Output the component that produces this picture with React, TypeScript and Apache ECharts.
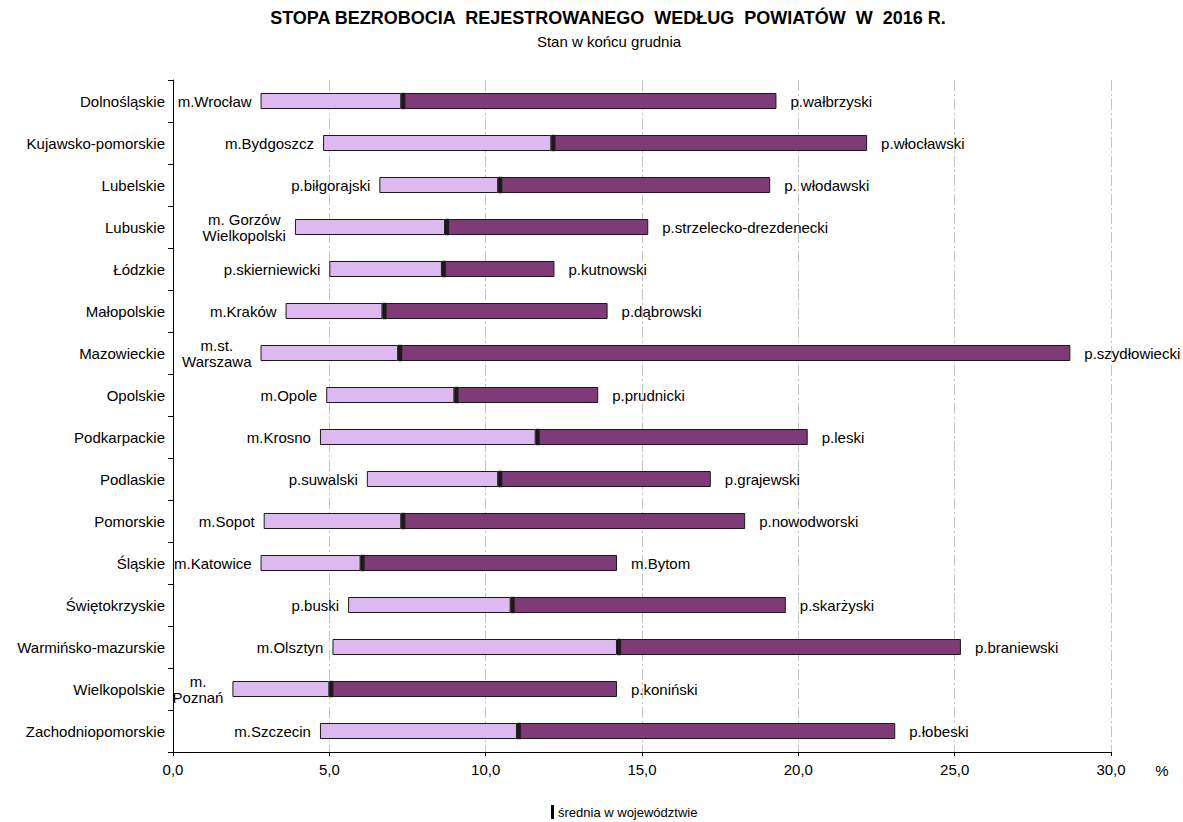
import React, { useEffect, useRef } from "react";
import * as echarts from "echarts";

const regions = [
  "Dolnośląskie",
  "Kujawsko-pomorskie",
  "Lubelskie",
  "Lubuskie",
  "Łódzkie",
  "Małopolskie",
  "Mazowieckie",
  "Opolskie",
  "Podkarpackie",
  "Podlaskie",
  "Pomorskie",
  "Śląskie",
  "Świętokrzyskie",
  "Warmińsko-mazurskie",
  "Wielkopolskie",
  "Zachodniopomorskie",
];

const minValues = [2.8, 4.8, 6.6, 3.9, 5.0, 3.6, 2.8, 4.9, 4.7, 6.2, 2.9, 2.8, 5.6, 5.1, 1.9, 4.7];
const avgValues = [7.3, 12.1, 10.4, 8.7, 8.6, 6.7, 7.2, 9.0, 11.6, 10.4, 7.3, 6.0, 10.8, 14.2, 5.0, 11.0];
const maxValues = [19.3, 22.2, 19.1, 15.2, 12.2, 13.9, 28.7, 13.6, 20.3, 17.2, 18.3, 14.2, 19.6, 25.2, 14.2, 23.1];

const minNames = [
  "m.Wrocław",
  "m.Bydgoszcz",
  "p.biłgorajski",
  "m. Gorzów\nWielkopolski",
  "p.skierniewicki",
  "m.Kraków",
  "m.st.\nWarszawa",
  "m.Opole",
  "m.Krosno",
  "p.suwalski",
  "m.Sopot",
  "m.Katowice",
  "p.buski",
  "m.Olsztyn",
  "m.\nPoznań",
  "m.Szczecin",
];

const maxNames = [
  "p.wałbrzyski",
  "p.włocławski",
  "p. włodawski",
  "p.strzelecko-drezdenecki",
  "p.kutnowski",
  "p.dąbrowski",
  "p.szydłowiecki",
  "p.prudnicki",
  "p.leski",
  "p.grajewski",
  "p.nowodworski",
  "m.Bytom",
  "p.skarżyski",
  "p.braniewski",
  "p.koniński",
  "p.łobeski",
];

const xMin = 0;
const xMax = 30;
const xStep = 5;

const TITLE = "STOPA BEZROBOCIA  REJESTROWANEGO  WEDŁUG  POWIATÓW  W  2016 R.";
const SUBTITLE = "Stan w końcu grudnia";
const LEGEND_TEXT = "średnia w województwie";
const UNIT = "%";

const FONT = '"Liberation Sans", Arial, Helvetica, sans-serif';

export default function App() {
  const ref = useRef<HTMLDivElement>(null);

  useEffect(() => {
    if (!ref.current) return;
    const chart = echarts.init(ref.current, undefined, { renderer: "svg" });

    const lowPart = avgValues.map((a, i) => +(a - minValues[i]).toFixed(2));
    const highPart = maxValues.map((m, i) => +(m - avgValues[i]).toFixed(2));

    const option: any = {
      animation: false,
      backgroundColor: "#ffffff",
      textStyle: { fontFamily: FONT },
      grid: { left: 173, right: 72, top: 80, bottom: 70, containLabel: false },
      xAxis: {
        type: "value",
        min: xMin,
        max: xMax,
        interval: xStep,
        axisLine: { show: true, lineStyle: { color: "#000", width: 1 } },
        axisTick: { show: true, length: 4, lineStyle: { color: "#000" } },
        axisLabel: {
          formatter: (v: number) => v.toFixed(1).replace(".", ","),
          fontSize: 15,
          color: "#000",
          fontFamily: FONT,
          margin: 10,
        },
        splitLine: {
          show: true,
          lineStyle: { color: "#c4c4c4", width: 1, type: [11, 3, 2, 3] },
        },
      },
      yAxis: {
        type: "category",
        data: regions,
        inverse: true,
        axisLine: { show: true, lineStyle: { color: "#000", width: 1 } },
        axisTick: { show: true, length: 5, lineStyle: { color: "#000" } },
        axisLabel: { fontSize: 15, color: "#000", fontFamily: FONT, margin: 8 },
        splitLine: { show: false },
      },
      series: [
        {
          name: "base",
          type: "bar",
          stack: "range",
          data: minValues,
          barWidth: 16,
          silent: true,
          itemStyle: { color: "transparent" },
        },
        {
          name: "min-avg",
          type: "bar",
          stack: "range",
          data: lowPart,
          barWidth: 16,
          itemStyle: { color: "#DDB9F0", borderColor: "#1a1a1a", borderWidth: 1 },
          label: {
            show: true,
            position: "left",
            distance: 9,
            formatter: (p: any) =>
              minNames[p.dataIndex]
                .split("\n")
                .map((l) => `{c|${l}}`)
                .join("\n"),
            rich: {
              c: { align: "center", fontSize: 15, fontFamily: FONT, color: "#000", lineHeight: 16 },
            },
          },
        },
        {
          name: "avg-max",
          type: "bar",
          stack: "range",
          data: highPart,
          barWidth: 16,
          itemStyle: { color: "#7F3B77", borderColor: "#1a1a1a", borderWidth: 1 },
          label: {
            show: true,
            position: "right",
            distance: 14,
            formatter: (p: any) => maxNames[p.dataIndex],
            fontSize: 15,
            fontFamily: FONT,
            color: "#000",
          },
        },
        {
          name: "średnia",
          type: "scatter",
          data: avgValues.map((v, i) => [v, i]),
          symbol: "rect",
          symbolSize: [4, 16],
          symbolOffset: [2, 0],
          itemStyle: { color: "#0d0d0d", borderColor: "#333", borderWidth: 0.5 },
          z: 5,
        },
      ],
      graphic: [
        {
          type: "text",
          x: 608,
          y: 18,
          style: {
            text: TITLE,
            fontSize: 18,
            fontWeight: "bold",
            fontFamily: FONT,
            fill: "#000",
            textAlign: "center",
            textVerticalAlign: "middle",
          },
        },
        {
          type: "text",
          x: 609,
          y: 41,
          style: {
            text: SUBTITLE,
            fontSize: 15,
            fontFamily: FONT,
            fill: "#000",
            textAlign: "center",
            textVerticalAlign: "middle",
          },
        },
        {
          type: "text",
          x: 1162,
          y: 770,
          style: {
            text: UNIT,
            fontSize: 15,
            fontFamily: FONT,
            fill: "#000",
            textAlign: "center",
            textVerticalAlign: "middle",
          },
        },
        {
          type: "rect",
          shape: { x: 551, y: 805, width: 3, height: 14 },
          style: { fill: "#000" },
        },
        {
          type: "text",
          x: 558,
          y: 812,
          style: {
            text: LEGEND_TEXT,
            fontSize: 13,
            fontFamily: FONT,
            fill: "#000",
            textAlign: "left",
            textVerticalAlign: "middle",
          },
        },
      ],
    };

    chart.setOption(option);
    return () => {
      chart.dispose();
    };
  }, []);

  return (
    <div
      ref={ref}
      style={{ position: "fixed", left: 0, top: 0, width: 1183, height: 822, background: "#fff" }}
    />
  );
}
